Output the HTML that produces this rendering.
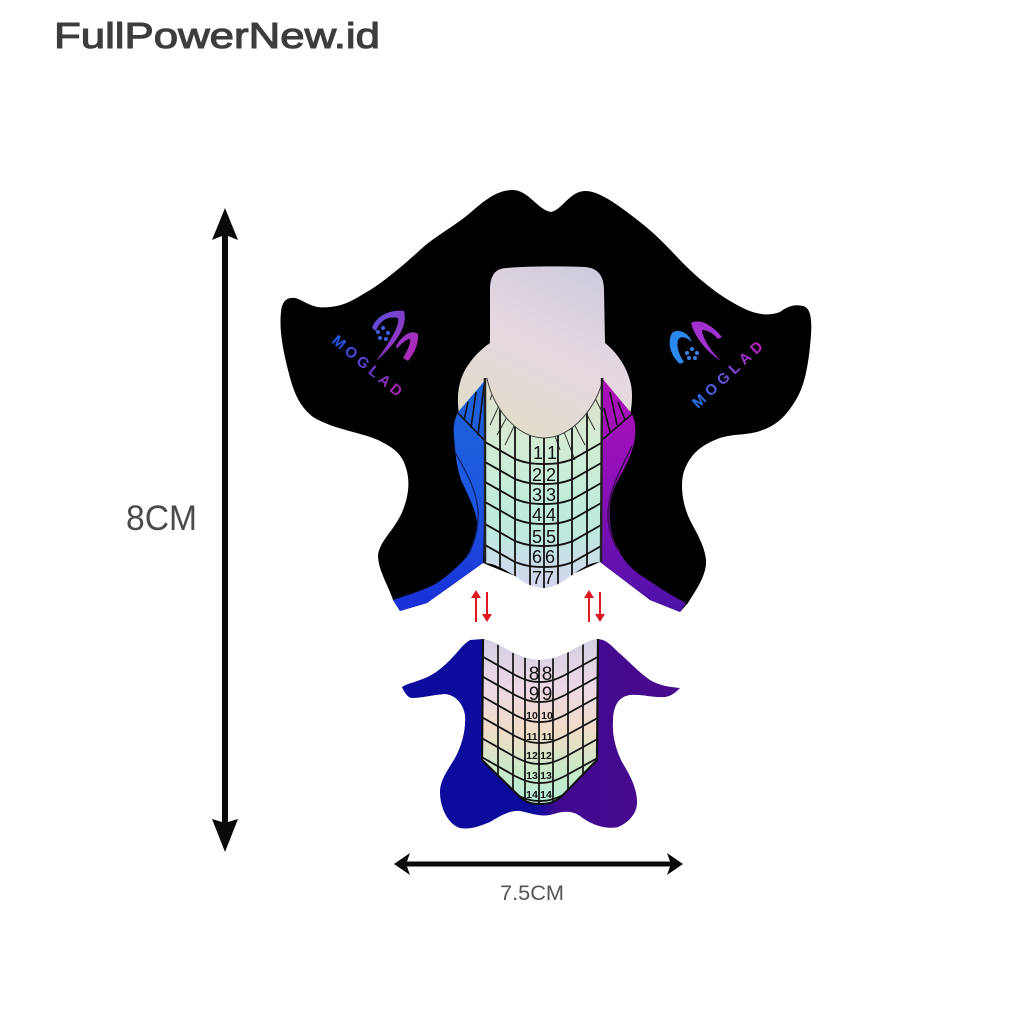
<!DOCTYPE html>
<html><head><meta charset="utf-8"><style>html,body{margin:0;padding:0;background:#fff}svg{display:block}</style></head>
<body>
<svg width="1024" height="1024" viewBox="0 0 1024 1024" xmlns="http://www.w3.org/2000/svg" font-family="'Liberation Sans',sans-serif">
<defs>
<linearGradient id="win" x1="0.7" y1="0" x2="0.2" y2="1"><stop offset="0" stop-color="#cfcbdc"/><stop offset=".45" stop-color="#e6d8e2"/><stop offset="1" stop-color="#dfddc4"/></linearGradient>
<linearGradient id="g1" gradientUnits="userSpaceOnUse" x1="0" y1="380" x2="0" y2="590"><stop offset="0" stop-color="#e2dcc8"/><stop offset=".28" stop-color="#d4ecd4"/><stop offset=".55" stop-color="#c2ecd8"/><stop offset=".75" stop-color="#bfe8e0"/><stop offset="1" stop-color="#d6d2f0"/></linearGradient>
<linearGradient id="g2" gradientUnits="userSpaceOnUse" x1="0" y1="640" x2="0" y2="805"><stop offset="0" stop-color="#d3d0e2"/><stop offset=".3" stop-color="#eed8e6"/><stop offset=".55" stop-color="#f0dcc6"/><stop offset=".8" stop-color="#c8eac8"/><stop offset="1" stop-color="#b4ecdc"/></linearGradient>
<linearGradient id="blu" x1="0" y1="0" x2="0" y2="1"><stop offset="0" stop-color="#1f62d8"/><stop offset=".5" stop-color="#1c58e0"/><stop offset="1" stop-color="#1a2ed8"/></linearGradient>
<linearGradient id="pur" x1="0" y1="0" x2="0" y2="1"><stop offset="0" stop-color="#b010b8"/><stop offset=".5" stop-color="#8a10b8"/><stop offset="1" stop-color="#4a10a8"/></linearGradient>
<linearGradient id="low" x1="0" y1="0" x2="1" y2="0"><stop offset="0" stop-color="#0c0c9c"/><stop offset=".48" stop-color="#0c0c9c"/><stop offset=".56" stop-color="#40088f"/><stop offset="1" stop-color="#4a0a8e"/></linearGradient>
<linearGradient id="lg3" gradientUnits="userSpaceOnUse" x1="332" y1="310" x2="415" y2="370"><stop offset="0" stop-color="#2468f0"/><stop offset="1" stop-color="#c020b0"/></linearGradient>
<linearGradient id="tR" gradientUnits="userSpaceOnUse" x1="0" y1="0" x2="90" y2="0"><stop offset="0" stop-color="#2478f0"/><stop offset="1" stop-color="#c020c0"/></linearGradient>
<linearGradient id="tL" gradientUnits="userSpaceOnUse" x1="0" y1="0" x2="88" y2="0"><stop offset="0" stop-color="#1c5cf0"/><stop offset="1" stop-color="#b020b0"/></linearGradient>
<clipPath id="c1"><path d="M485,378 L487,378 C492,405 515,438 544,438 C573,438 598,405 603,378 L602,562 C592,562 585,566 575,573 C565,580 555,588 544,588 C535,588 525,584 515,576 C505,570 495,563 484,563Z"/></clipPath>
<clipPath id="c2"><path d="M483,639 C500,642 515,660 540,660 C565,660 580,642 598,639 L597,760 L563,795 C555,803 548,804 540,804 C532,804 526,803 519,796 L482,760Z"/></clipPath>
<path id="r1" d="M478,0 L515,21 C525,25 533,26 544,26 C555,26 563,25 573,21 L610,0" fill="none" stroke="#111" stroke-width="1.800"/>
<path id="r2" d="M478,-4 L515,17 C525,22 531,24 540,24 C549,24 555,22 565,17 L603,-4" fill="none" stroke="#111" stroke-width="1.800"/>
</defs>
<rect width="1024" height="1024" fill="#fff"/>

<text x="54" y="48" font-size="36" fill="#3d3d3d" stroke="#3d3d3d" stroke-width="1.100" textLength="326" lengthAdjust="spacingAndGlyphs">FullPowerNew.id</text>

<!-- dimension arrows -->
<path d="M225,208 L238,240 L228,236 L228,822 L238,819 L225,852 L212,819 L222,822 L222,236 L212,240Z" fill="#0a0a0a"/>
<path d="M394,864 L410,853 L407,861.500 L670,861.500 L667,853 L683,864 L667,875 L670,866.500 L407,866.500 L410,875Z" fill="#0a0a0a"/>
<text x="126" y="530" font-size="35" fill="#4a4a4a" textLength="71" lengthAdjust="spacingAndGlyphs">8CM</text>
<text x="500" y="900" font-size="21" fill="#555" textLength="64" lengthAdjust="spacingAndGlyphs">7.5CM</text>

<!-- upper black piece -->
<path fill="#000" d="M513,190 C528,190 538,210 551,212 C562,210 570,191 585,191 C600,191 618,205 640,222 S675,256 690,270 S722,298 745,309 C758,315 770,316 780,312 C788,306 795,304 803,306 C811,308 812,320 811,335 C809,360 806,382 797,398 C787,415 778,425 760,431 C745,436 730,433 715,440 C700,446 688,456 683,475 C680,490 684,510 692,524 C698,535 705,548 706,560 C707,575 696,590 688,603 L680,612 L650,600 L600,562 L575,573 L544,588 L515,576 L483,563 L427,603 L400,611 L393,600 C388,585 378,570 378,555 C380,540 395,530 403,510 C409,495 410,480 406,468 C402,453 392,447 378,440 C360,432 335,430 313,417 C298,405 293,390 288,370 C283,350 279,330 281,312 C282,300 288,297 295,298 C303,300 307,305 318,307 C325,308 330,307 337,306 C350,303 358,297 370,290 S405,264 420,250 S455,226 470,213 S497,190 513,190Z"/>

<!-- window -->
<path fill="url(#win)" d="M490,290 C490,276 495,268 507,268 C525,266 565,266 585,267 C598,268 604,276 604,290 L605,343 C620,355 632,375 632,395 C632,405 631,410 630,414 L602,440 L486,440 L459,414 C457,400 457,385 465,370 C472,358 480,350 490,343Z"/>

<!-- side bands -->
<path fill="url(#blu)" d="M487,378 L458,412 C454,420 453,428 454,436 C455,450 456,465 461,480 C468,495 476,510 477,523 C477,535 473,545 470,553 C460,565 450,574 437,583 C425,590 410,594 393,600 L400,611 L427,603 L483,563 L486,440Z"/>
<path fill="url(#pur)" d="M602,378 L632,414 C635,420 636,428 635,437 C634,447 630,457 625,467 C618,480 612,490 610,505 C609,518 610,528 614,540 C620,555 627,567 645,578 C660,588 672,596 686,603 L680,612 L650,600 L600,562 L601,440Z"/>
<path d="M455,452 C465,470 476,488 478,510 C479,530 474,545 466,558" fill="none" stroke="#0d1f6a" stroke-width="1.200"/>
<path d="M632,446 C622,468 608,490 608,515 C608,530 614,545 620,552" fill="none" stroke="#3a0a50" stroke-width="1.500"/>
<path d="M458,413 L486,442 M632,414 L602,440" stroke="#111" stroke-width="1.600" fill="none"/>
<path d="M468,402 L464,420 M476,392 L471,428 M484,385 L478,435 M610,392 L617,425 M618,402 L625,420 M604,408 L610,432" stroke="#111" stroke-width="1.600" fill="none"/>

<!-- grid upper -->
<g clip-path="url(#c1)">
<rect x="484" y="378" width="120" height="215" fill="url(#g1)"/>
<g stroke="#333" stroke-width="1" fill="none">
<path d="M490,400L498,378M490,425L504,395M497,435L512,408M505,445L518,418M560,450L555,436M575,460L564,432M585,445L572,420M595,430L582,405M601,410L592,392"/>
</g>
<g stroke="#111" stroke-width="1.800" fill="none">
<path d="M500,390V590M515,415V590M530,430V590M544,430V590M558,430V590M572,420V590M587,400V590"/>
</g>
<use href="#r1" y="438"/><use href="#r1" y="458"/><use href="#r1" y="478"/><use href="#r1" y="498"/><use href="#r1" y="520"/><use href="#r1" y="541"/>
</g>
<path d="M487,378 C492,405 515,438 544,438 C573,438 598,405 603,378" fill="none" stroke="#444" stroke-width="1"/>
<path d="M485,378 L485,563 M602,378 L601,562" stroke="#222" stroke-width="2.500" fill="none"/>
<g font-size="18" fill="#111" text-anchor="middle">
<text x="538" y="459">1</text><text x="552" y="459">1</text>
<text x="537" y="481">2</text><text x="551" y="481">2</text>
<text x="537" y="501">3</text><text x="551" y="501">3</text>
<text x="537" y="521">4</text><text x="551" y="521">4</text>
<text x="537" y="543">5</text><text x="551" y="543">5</text>
<text x="537" y="563">6</text><text x="550" y="563">6</text>
<text x="537" y="584">7</text><text x="549" y="584">7</text>
</g>

<!-- logos -->
<path fill="url(#lg3)" d="M372,328 C376,316 390,309 404,311 C408,325 398,342 376,361 C390,342 400,325 398,318 C388,316 380,320 376,331Z"/>
<path fill="url(#lg3)" d="M396,346 C402,335 412,329 418,334 C419,345 413,355 408,361 L403,358 C408,350 411,342 410,339 C405,340 400,345 397,349Z"/>
<g fill="#3a60e0"><circle cx="383" cy="328" r="2"/><circle cx="378" cy="332" r="2"/><circle cx="388" cy="333" r="2"/><circle cx="380" cy="338" r="2"/><circle cx="386" cy="339" r="2"/></g>
<path fill="#2a88f0" d="M680,364 C670,355 667,342 672,333 C678,328 688,332 692,342 C685,336 680,336 678,340 C676,348 680,356 684,362Z"/>
<path fill="#a030d0" d="M691,323 C700,318 712,325 722,337 L718,339 C712,332 706,330 702,330 C703,340 712,352 721,361 C707,352 695,338 691,323Z"/>
<g fill="#3a80e8"><circle cx="692" cy="349" r="2"/><circle cx="687" cy="353" r="2"/><circle cx="697" cy="353" r="2"/><circle cx="689" cy="358" r="2"/><circle cx="695" cy="358" r="2"/></g>
<text transform="translate(331,342) rotate(40)" font-size="15" font-weight="bold" fill="url(#tL)" textLength="86" lengthAdjust="spacing">MOGLAD</text>
<text transform="translate(698,409) rotate(-43)" font-size="15" font-weight="bold" fill="url(#tR)" textLength="90" lengthAdjust="spacing">MOGLAD</text>

<!-- red arrows -->
<g fill="none" stroke="#e01820" stroke-width="2"><path d="M476,622V595M487,592V616M589,622V595M600,592V616"/></g>
<g fill="#e01820"><path d="M476,590l-5,8h10zM487,622l-5,-8h10zM589,590l-5,8h10zM600,622l-5,-8h10z"/></g>

<!-- lower piece -->
<path fill="url(#low)" d="M483,639 L470,640 C462,645 458,652 450,660 C440,670 432,676 420,680 C412,683 406,684 402,687 C404,692 408,698 412,698 C422,698 432,695 445,694 C455,695 463,703 465,715 C466,730 462,745 455,758 C448,770 440,780 440,792 C440,808 448,824 460,828 C470,830 480,826 490,822 C500,816 510,810 520,811 C530,813 540,817 550,815 C560,812 570,809 580,816 C590,824 605,830 618,827 C630,822 638,812 637,800 C636,785 628,772 622,762 C616,750 612,735 613,722 C613,708 617,697 630,695 C642,694 655,698 665,697 C672,696 676,692 680,688 C670,687 660,686 650,680 C638,672 628,660 618,652 C612,646 608,642 603,640 L598,639 C580,642 565,660 540,660 C515,660 500,642 483,639Z"/>
<g clip-path="url(#c2)">
<rect x="480" y="635" width="120" height="172" fill="url(#g2)"/>
<path d="M498,635V800M513,635V800M525,635V800M539,635V810M553,635V810M568,635V800M583,635V800" stroke="#111" stroke-width="1.700" fill="none"/>
<use href="#r2" y="658"/><use href="#r2" y="678"/><use href="#r2" y="698"/><use href="#r2" y="719"/><use href="#r2" y="740"/><use href="#r2" y="759"/><use href="#r2" y="777"/>
</g>
<path d="M483,639 L482,760 L519,796 C526,803 532,804 540,804 C548,804 555,803 563,795 L597,760 L598,639" fill="none" stroke="#111" stroke-width="2.200"/>
<g fill="#111" text-anchor="middle">
<g font-size="19"><text x="534" y="680">8</text><text x="547" y="680">8</text><text x="534" y="700">9</text><text x="547" y="700">9</text></g>
<g font-size="10.500" font-weight="bold">
<text x="532" y="719">10</text><text x="547" y="719">10</text>
<text x="532" y="740">11</text><text x="547" y="740">11</text>
<text x="532" y="759">12</text><text x="546" y="759">12</text>
<text x="532" y="779">13</text><text x="546" y="779">13</text>
<text x="532" y="798">14</text><text x="546" y="798">14</text>
</g></g>
</svg>
</body></html>
